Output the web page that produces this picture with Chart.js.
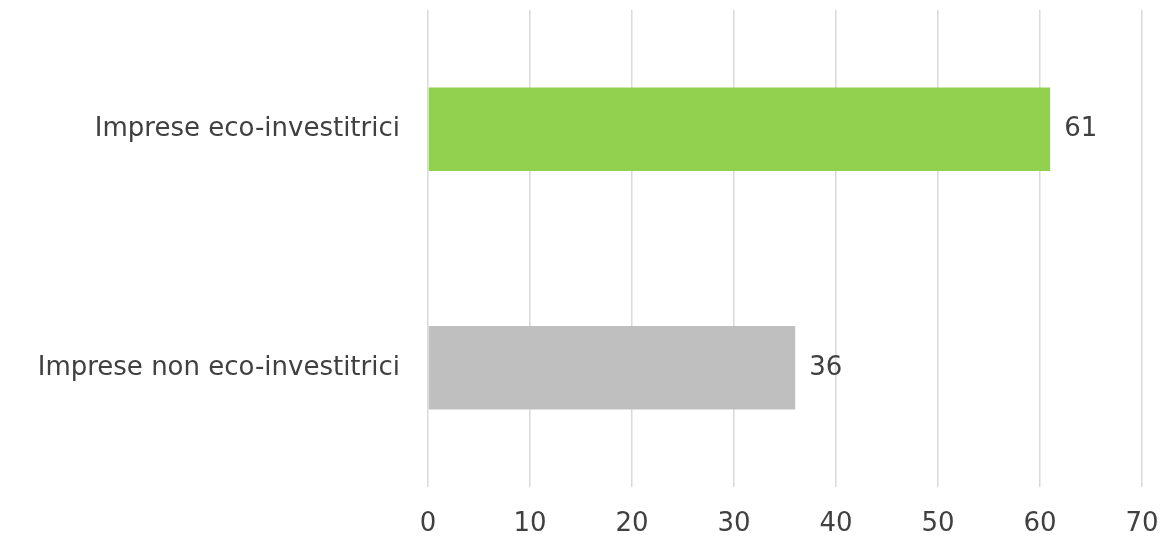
<!DOCTYPE html>
<html>
<head>
<meta charset="utf-8">
<script src="https://cdn.jsdelivr.net/npm/chart.js@4/dist/chart.umd.min.js"></script>
<style>
html,body{margin:0;padding:0;background:#fff;}
#wrap{width:1163px;height:542px;position:relative;}
</style>
</head>
<body>
<div id="wrap"><canvas id="c" width="1163" height="542"></canvas></div>
<script>
const categories = ["Imprese eco-investitrici", "Imprese non eco-investitrici"];
const values = [61, 36];
const barColors = ["#92D050", "#BFBFBF"];
const xTicks = [0, 10, 20, 30, 40, 50, 60, 70];

const FONT = "'DejaVu Sans', sans-serif";
const TEXT = "#404040";
const FSIZE = 26;

const valueLabels = {
  id: "valueLabels",
  afterDatasetsDraw(chart) {
    const ctx = chart.ctx;
    const meta = chart.getDatasetMeta(0);
    ctx.save();
    ctx.font = FSIZE + "px " + FONT;
    ctx.fillStyle = TEXT;
    ctx.textAlign = "left";
    ctx.textBaseline = "middle";
    meta.data.forEach((bar, i) => {
      ctx.fillText(String(values[i]), bar.x + 14, bar.y);
    });
    ctx.restore();
  }
};

new Chart(document.getElementById("c"), {
  type: "bar",
  data: {
    labels: categories,
    datasets: [{
      data: values,
      backgroundColor: barColors,
      borderWidth: 0,
      barPercentage: 0.7,
      categoryPercentage: 0.5
    }]
  },
  options: {
    indexAxis: "y",
    responsive: false,
    animation: false,
    layout: { padding: { top: 10, right: 21, bottom: 0, left: 0 } },
    plugins: { legend: { display: false }, tooltip: { enabled: false } },
    scales: {
      x: {
        min: 0, max: 70,
        afterBuildTicks(scale) { scale.ticks = xTicks.map(v => ({ value: v })); },
        afterFit(scale) { scale.height = 55; scale.paddingLeft = 0; scale.paddingRight = 0; },
        grid: { color: "#D9D9D9", lineWidth: 1.5, drawTicks: false },
        border: { display: false },
        ticks: { color: TEXT, font: { family: FONT, size: FSIZE }, padding: 22 }
      },
      y: {
        grid: { display: false, drawTicks: false },
        border: { display: false },
        afterFit(scale) { scale.width = 428; scale.paddingTop = 0; scale.paddingBottom = 0; },
        ticks: { color: TEXT, font: { family: FONT, size: FSIZE }, padding: 28 }
      }
    }
  },
  plugins: [valueLabels]
});
</script>
</body>
</html>
